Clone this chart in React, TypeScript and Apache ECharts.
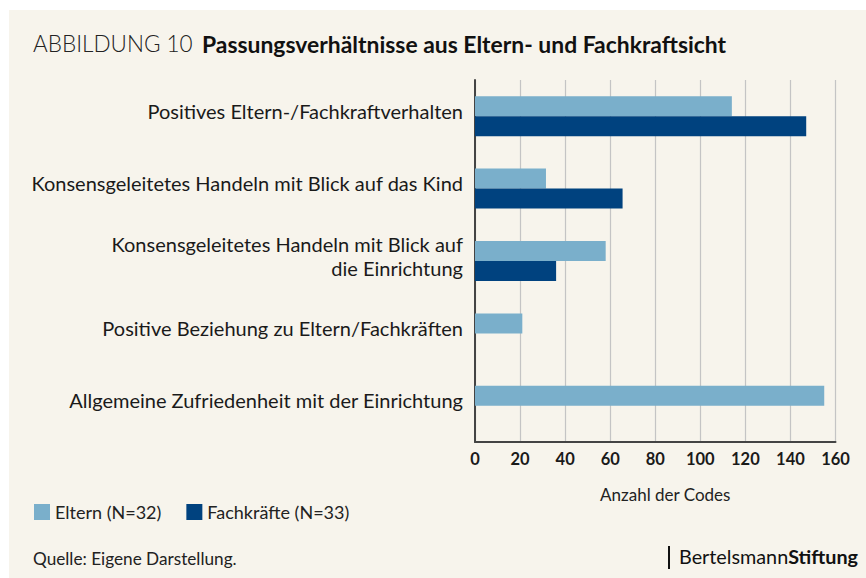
import React, { useEffect, useRef } from "react";
import * as echarts from "echarts";

const categories = [
  "Positives Eltern-/Fachkraftverhalten",
  "Konsensgeleitetes Handeln mit Blick auf das Kind",
  "Konsensgeleitetes Handeln mit Blick auf\ndie Einrichtung",
  "Positive Beziehung zu Eltern/Fachkräften",
  "Allgemeine Zufriedenheit mit der Einrichtung",
];
const elternValues = [114, 31.5, 58, 21, 155];
const fachkraefteValues = [147, 65.5, 36, 0, 0];
const seriesNames = ["Eltern (N=32)", "Fachkräfte (N=33)"];
const xTicks = { min: 0, max: 160, interval: 20 };

const FONT = "Lato, 'Open Sans', sans-serif";
const LIGHT = "#7aafcb";
const DARK = "#00427f";
const BG = "#f7f4ec";

export default function App() {
  const ref = useRef<HTMLDivElement>(null);
  useEffect(() => {
    if (!ref.current) return;
    const chart = echarts.init(ref.current, undefined, { renderer: "svg" });
    chart.setOption({
      animation: false,
      backgroundColor: "transparent",
      textStyle: { fontFamily: FONT },
      grid: { left: 475, right: 30.5, top: 80, height: 362 },
      xAxis: {
        type: "value",
        min: xTicks.min,
        max: xTicks.max,
        interval: xTicks.interval,
        name: "Anzahl der Codes",
        nameLocation: "middle",
        nameGap: 44,
        nameTextStyle: { fontFamily: FONT, fontSize: 17, color: "#222", padding: [0, 0, 0, 20] },
        axisLine: { show: true, lineStyle: { color: "#444", width: 2 } },
        axisTick: { show: false },
        axisLabel: { fontFamily: FONT, fontSize: 16.5, fontWeight: "bold", color: "#1a1a1a", margin: 8 },
        splitLine: { show: true, lineStyle: { color: "#c4c4c4", width: 1.2 } },
      },
      yAxis: {
        type: "category",
        data: categories,
        inverse: true,
        axisLine: { show: true, lineStyle: { color: "#444", width: 2 } },
        axisTick: { show: false },
        axisLabel: {
          fontFamily: FONT,
          fontSize: 20,
          color: "#1a1a1a",
          margin: 12,
          lineHeight: 24,
          align: "right",
          formatter: (v: string) =>
            v
              .split("\n")
              .map((l) => `{t|${l}}`)
              .join("\n") + "\n{s| }",
          rich: {
            t: { fontFamily: FONT, fontSize: 20, color: "#1a1a1a", lineHeight: 24 },
            s: { fontSize: 1, lineHeight: 11 },
          },
        },
        splitLine: { show: false },
      },
      legend: {
        left: 34,
        top: 503,
        padding: 0,
        itemWidth: 16,
        itemHeight: 16,
        itemGap: 25,
        icon: "rect",
        textStyle: { fontFamily: FONT, fontSize: 18, color: "#222" },
        data: seriesNames,
      },
      series: [
        {
          name: seriesNames[0],
          type: "bar",
          data: elternValues,
          barWidth: 20,
          barGap: "0%",
          itemStyle: { color: LIGHT },
        },
        {
          name: seriesNames[1],
          type: "bar",
          data: fachkraefteValues,
          barWidth: 20,
          barGap: "0%",
          itemStyle: { color: DARK },
        },
      ],
      graphic: [
        {
          type: "text",
          left: 33,
          top: 32,
          style: { text: "ABBILDUNG 10", fontFamily: FONT, fontSize: 22.5, fontWeight: 300, fill: "#222" },
        },
        {
          type: "text",
          left: 202,
          top: 32,
          style: {
            text: "Passungsverhältnisse aus Eltern- und Fachkraftsicht",
            fontFamily: FONT,
            fontSize: 22.9,
            fontWeight: "bold",
            fill: "#111",
          },
        },
        {
          type: "text",
          left: 33,
          top: 550,
          style: { text: "Quelle: Eigene Darstellung.", fontFamily: FONT, fontSize: 17.2, fill: "#222" },
        },
        {
          type: "rect",
          shape: { x: 668, y: 546, width: 2, height: 23 },
          style: { fill: "#111" },
        },
        {
          type: "text",
          left: 679,
          top: 546,
          style: {
            text: "{a|Bertelsmann}{b|Stiftung}",
            rich: {
              a: { fontFamily: FONT, fontSize: 19.8, fill: "#111", fontWeight: "normal" },
              b: { fontFamily: FONT, fontSize: 19.8, fill: "#111", fontWeight: "bold" },
            },
          },
        },
      ],
    });
    return () => chart.dispose();
  }, []);

  return (
    <div style={{ position: "fixed", left: 0, top: 0, width: 866, height: 578, background: "#ffffff" }}>
      <div style={{ position: "absolute", left: 9, top: 10, right: 0, bottom: 0, background: BG }} />
      <div ref={ref} style={{ position: "absolute", left: 0, top: 0, width: 866, height: 578 }} />
    </div>
  );
}
